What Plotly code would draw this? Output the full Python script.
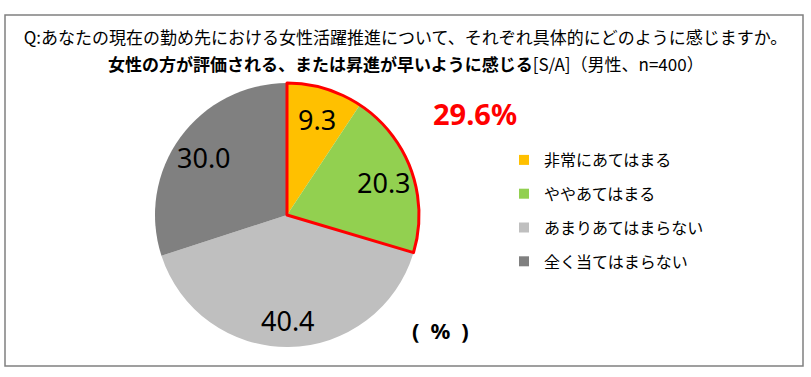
import math
import plotly.graph_objects as go

# ---- data ----
categories = ["非常にあてはまる", "ややあてはまる", "あまりあてはまらない", "全く当てはまらない"]
values = [9.3, 20.3, 40.4, 30.0]
colors = ["#FFC000", "#92D050", "#BFBFBF", "#808080"]
highlight_labels = ["あてはまる（計）", "その他"]
highlight_values = [values[0] + values[1], values[2] + values[3]]
title_line1 = "Q:あなたの現在の勤め先における女性活躍推進について、それぞれ具体的にどのように感じますか。"
title_line2 = "<b>女性の方が評価される、または昇進が早いように感じる</b>[S/A]（男性、n=400）"

W, H = 811, 377
cx, cy, r = 287, 215, 132
label_r = 0.78  # fraction of radius where value labels sit
label_dy = 3    # small downward nudge for digit baseline

dom_x = [(cx - r) / W, (cx + r) / W]
dom_y = [1 - (cy + r) / H, 1 - (cy - r) / H]

fig = go.Figure()

fig.add_trace(go.Pie(
    labels=categories,
    values=values,
    sort=False,
    direction="clockwise",
    rotation=0,
    marker=dict(colors=colors, line=dict(width=0)),
    textinfo="none",
    hoverinfo="label+value",
    showlegend=False,
    domain=dict(x=dom_x, y=dom_y),
))

# red outline around the first two categories combined
fig.add_trace(go.Pie(
    labels=highlight_labels,
    values=highlight_values,
    sort=False,
    direction="clockwise",
    rotation=0,
    marker=dict(colors=["rgba(0,0,0,0)", "rgba(0,0,0,0)"],
                line=dict(color=["#FF0000", "rgba(0,0,0,0)"], width=3)),
    textinfo="none",
    hoverinfo="skip",
    showlegend=False,
    domain=dict(x=dom_x, y=dom_y),
))

# legend entries
for i, (cat, col) in enumerate(zip(categories, colors)):
    fig.add_trace(go.Scatter(
        x=[None], y=[None], mode="markers", name=cat,
        marker=dict(symbol="square", size=10, color=col),
        legendgroup=f"g{i}", showlegend=True, hoverinfo="skip",
    ))

# value labels placed at each slice's mid-angle (computed from the data)
total = sum(values)
value_annotations = []
cum = 0.0
for v in values:
    mid = (cum + v / 2) / total * 2 * math.pi  # clockwise from top
    cum += v
    px = cx + label_r * r * math.sin(mid)
    py = cy - label_r * r * math.cos(mid) + label_dy
    value_annotations.append(dict(
        text=f"{v:.1f}", xref="paper", yref="paper",
        x=px / W, y=1 - py / H, xanchor="center", yanchor="middle", showarrow=False,
        font=dict(family="Noto Sans, Open Sans, sans-serif", size=27, color="#000000"),
    ))

title_font = dict(family="Noto Sans CJK JP", size=17, color="#000000")

fig.update_layout(
    width=W, height=H,
    margin=dict(l=0, r=0, t=0, b=0),
    paper_bgcolor="white", plot_bgcolor="white",
    xaxis=dict(visible=False), yaxis=dict(visible=False),
    title=dict(
        text=title_line1,
        x=0.5, xanchor="center", y=1 - 38 / H, yanchor="middle",
        font=title_font,
    ),
    legend=dict(
        x=504 / W, xanchor="left", y=1 - 143 / H, yanchor="top",
        font=dict(family="Noto Sans CJK JP", size=16, color="#000000"),
        tracegroupgap=10, bgcolor="rgba(0,0,0,0)",
    ),
    shapes=[dict(type="rect", xref="paper", yref="paper",
                 x0=5 / W, x1=803 / W, y0=1 - 366 / H, y1=1 - 15 / H,
                 line=dict(color="#808080", width=1.5), fillcolor="rgba(0,0,0,0)")],
    annotations=value_annotations + [
        dict(text=title_line2, xref="paper", yref="paper",
             x=0.5, y=1 - 63 / H, xanchor="center", yanchor="middle", showarrow=False,
             font=title_font),
        dict(text=f"<b>{highlight_values[0]:.1f}%</b>", xref="paper", yref="paper",
             x=475 / W, y=1 - 114 / H, xanchor="center", yanchor="middle", showarrow=False,
             font=dict(family="Noto Sans, sans-serif", size=29, color="#FF0000")),
        dict(text="<b>(\u2002%\u2002)</b>", xref="paper", yref="paper",
             x=440 / W, y=1 - 330 / H, xanchor="center", yanchor="middle", showarrow=False,
             font=dict(family="Noto Sans, sans-serif", size=22, color="#000000")),
    ],
)

fig.write_html(
    "out.html",
    config={"displayModeBar": False},
    post_script="document.body.style.margin='0';document.body.style.padding='0';",
)
